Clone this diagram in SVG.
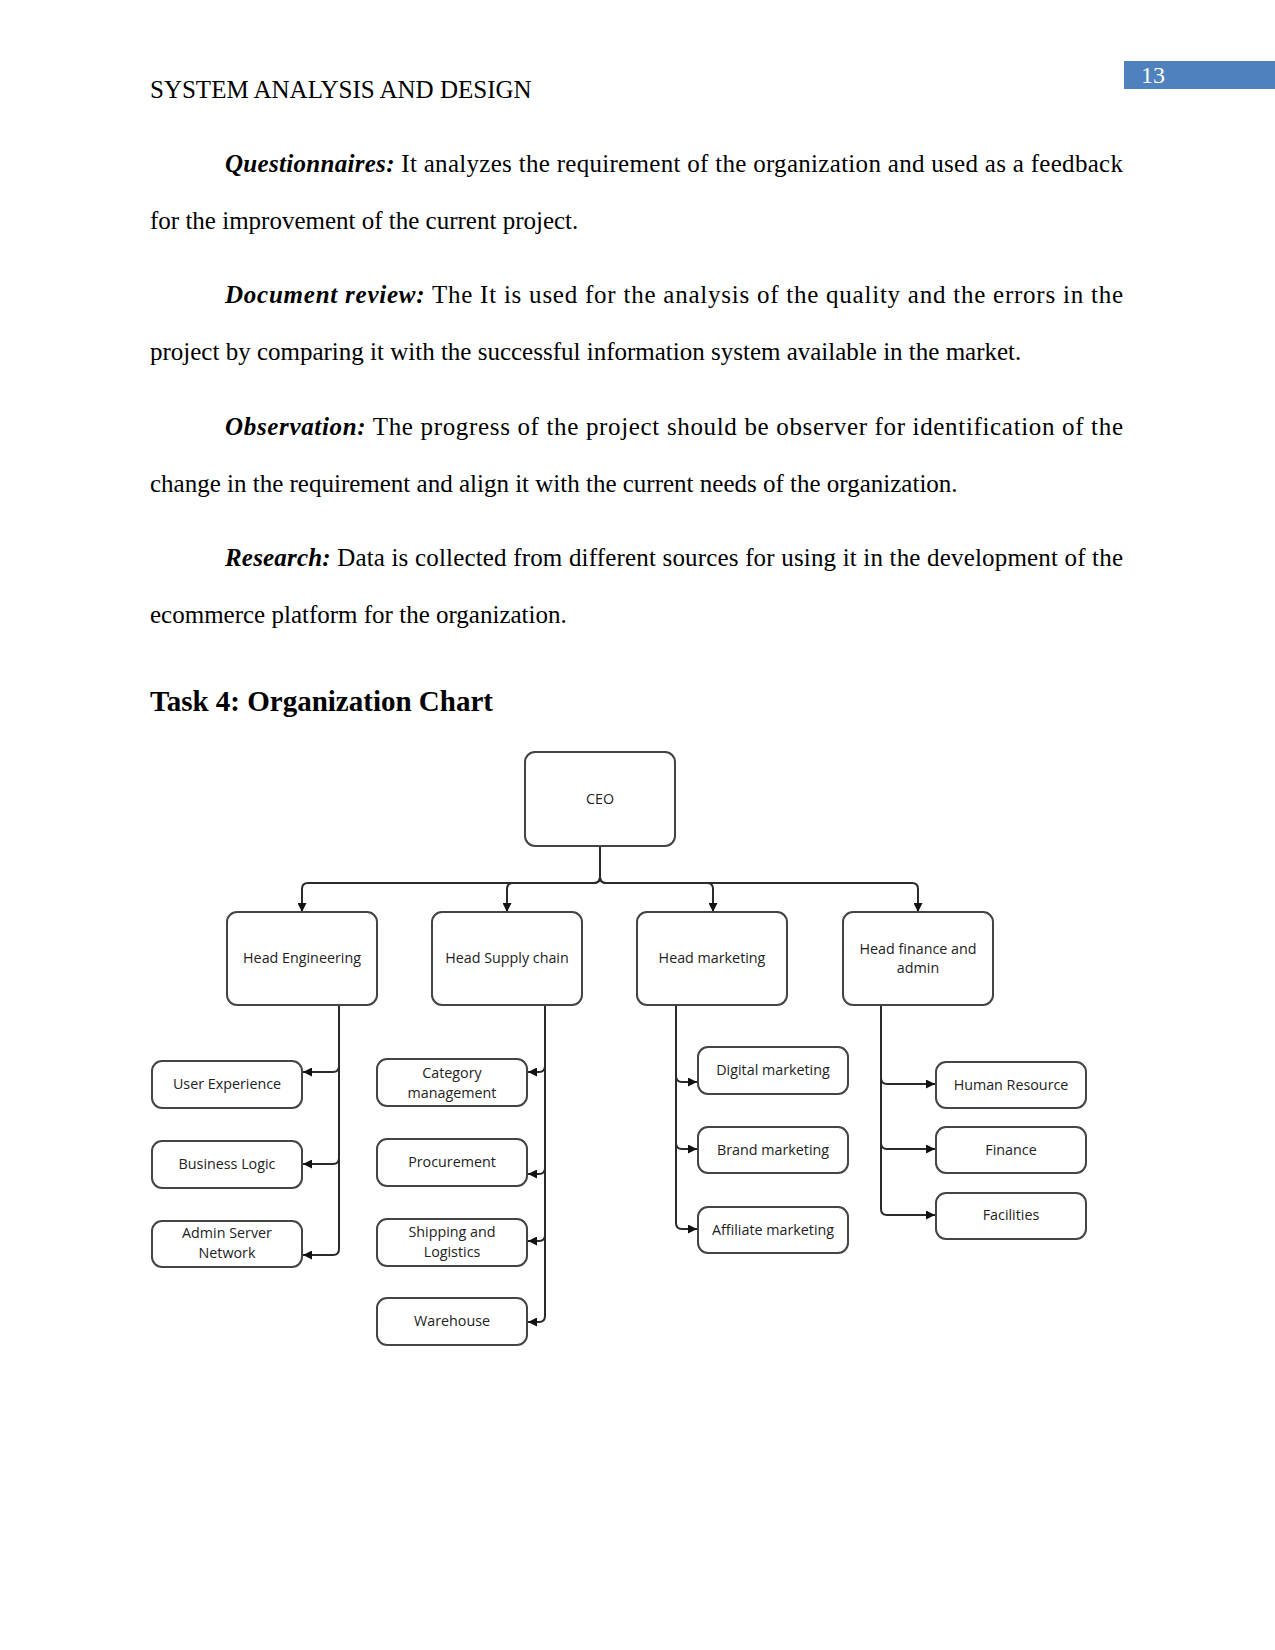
<svg xmlns="http://www.w3.org/2000/svg" width="1275" height="1650" viewBox="0 0 1275 1650">
<style>
.body{font-family:"Liberation Serif","Times New Roman",serif;font-size:25px;fill:#000}
.bi{font-weight:bold;font-style:italic}
.node rect{fill:#fff;stroke:#444;stroke-width:2}
.node text{font-family:"Open Sans","Noto Sans",sans-serif;font-size:14.3px;fill:#222;text-anchor:middle}
#connectors path{fill:none;stroke:#2a2a2a;stroke-width:2}
</style>
<defs>
<marker id="arr" viewBox="0 0 10 10" refX="10" refY="5" markerWidth="9" markerHeight="9" markerUnits="userSpaceOnUse" orient="auto">
<path d="M0,0 L10,5 L0,10 z" fill="#111"/>
</marker>
</defs>
<rect width="1275" height="1650" fill="#fff"/>

<!-- header -->
<rect x="1124" y="61" width="151" height="28" fill="#4F81BD"/>
<text x="1141" y="83" font-family="Liberation Serif,serif" font-size="24" fill="#fff">13</text>
<text class="body" x="150" y="98">SYSTEM ANALYSIS AND DESIGN</text>

<!-- paragraphs -->
<text class="body" x="225" y="172" textLength="898" lengthAdjust="spacing"><tspan class="bi">Questionnaires:</tspan> It analyzes the requirement of the organization and used as a feedback</text>
<text class="body" x="150" y="229">for the improvement of the current project.</text>
<text class="body" x="225" y="303" textLength="898" lengthAdjust="spacing"><tspan class="bi">Document review:</tspan> The It is used for the analysis of the quality and the errors in the</text>
<text class="body" x="150" y="360">project by comparing it with the successful information system available in the market.</text>
<text class="body" x="225" y="435" textLength="898" lengthAdjust="spacing"><tspan class="bi">Observation:</tspan> The progress of the project should be observer for identification of the</text>
<text class="body" x="150" y="492">change in the requirement and align it with the current needs of the organization.</text>
<text class="body" x="225" y="566" textLength="898" lengthAdjust="spacing"><tspan class="bi">Research:</tspan> Data is collected from different sources for using it in the development of the</text>
<text class="body" x="150" y="623">ecommerce platform for the organization.</text>
<text x="150" y="711" font-family="Liberation Serif,serif" font-size="29" font-weight="bold">Task 4: Organization Chart</text>

<!-- connectors -->
<g id="connectors">
<path d="M600,846 V877 Q600,883 594,883 H308 Q302,883 302,889 V912" marker-end="url(#arr)"/>
<path d="M600,877 Q600,883 594,883 H513 Q507,883 507,889 V912" marker-end="url(#arr)"/>
<path d="M600,877 Q600,883 606,883 H707 Q713,883 713,889 V912" marker-end="url(#arr)"/>
<path d="M600,877 Q600,883 606,883 H912 Q918,883 918,889 V912" marker-end="url(#arr)"/>

<path d="M339,1005 V1066 Q339,1072 333,1072 H303" marker-end="url(#arr)"/>
<path d="M339,1005 V1158 Q339,1164 333,1164 H303" marker-end="url(#arr)"/>
<path d="M339,1005 V1249 Q339,1255 333,1255 H303" marker-end="url(#arr)"/>

<path d="M545,1005 V1066 Q545,1072 539,1072 H528" marker-end="url(#arr)"/>
<path d="M545,1005 V1168 Q545,1174 539,1174 H528" marker-end="url(#arr)"/>
<path d="M545,1005 V1235 Q545,1241 539,1241 H528" marker-end="url(#arr)"/>
<path d="M545,1005 V1316 Q545,1322 539,1322 H528" marker-end="url(#arr)"/>

<path d="M676,1005 V1076 Q676,1082 682,1082 H697" marker-end="url(#arr)"/>
<path d="M676,1005 V1143 Q676,1149 682,1149 H697" marker-end="url(#arr)"/>
<path d="M676,1005 V1223 Q676,1229 682,1229 H697" marker-end="url(#arr)"/>

<path d="M881,1005 V1078 Q881,1084 887,1084 H935" marker-end="url(#arr)"/>
<path d="M881,1005 V1143 Q881,1149 887,1149 H935" marker-end="url(#arr)"/>
<path d="M881,1005 V1209 Q881,1215 887,1215 H935" marker-end="url(#arr)"/>
</g>

<!-- nodes -->
<g id="ceo" class="node"><rect x="525" y="752" width="150" height="94" rx="10"/><text x="600" y="804">CEO</text></g>

<g id="head-eng" class="node"><rect x="227" y="912" width="150" height="93" rx="10"/><text x="302" y="963">Head Engineering</text></g>
<g id="head-supply" class="node"><rect x="432" y="912" width="150" height="93" rx="10"/><text x="507" y="963">Head Supply chain</text></g>
<g id="head-marketing" class="node"><rect x="637" y="912" width="150" height="93" rx="10"/><text x="712" y="963">Head marketing</text></g>
<g id="head-finance" class="node"><rect x="843" y="912" width="150" height="93" rx="10"/><text x="918" y="954">Head finance and</text><text x="918" y="973">admin</text></g>

<g id="user-experience" class="node"><rect x="152" y="1061" width="150" height="47" rx="10"/><text x="227" y="1089">User Experience</text></g>
<g id="business-logic" class="node"><rect x="152" y="1141" width="150" height="47" rx="10"/><text x="227" y="1169">Business Logic</text></g>
<g id="admin-server" class="node"><rect x="152" y="1221" width="150" height="46" rx="10"/><text x="227" y="1238">Admin Server</text><text x="227" y="1258">Network</text></g>

<g id="category" class="node"><rect x="377" y="1059" width="150" height="47" rx="10"/><text x="452" y="1078">Category</text><text x="452" y="1098">management</text></g>
<g id="procurement" class="node"><rect x="377" y="1139" width="150" height="47" rx="10"/><text x="452" y="1167">Procurement</text></g>
<g id="shipping" class="node"><rect x="377" y="1219" width="150" height="47" rx="10"/><text x="452" y="1237">Shipping and</text><text x="452" y="1257">Logistics</text></g>
<g id="warehouse" class="node"><rect x="377" y="1298" width="150" height="47" rx="10"/><text x="452" y="1326">Warehouse</text></g>

<g id="digital" class="node"><rect x="698" y="1047" width="150" height="47" rx="10"/><text x="773" y="1075">Digital marketing</text></g>
<g id="brand" class="node"><rect x="698" y="1127" width="150" height="46" rx="10"/><text x="773" y="1155">Brand marketing</text></g>
<g id="affiliate" class="node"><rect x="698" y="1207" width="150" height="46" rx="10"/><text x="773" y="1235">Affiliate marketing</text></g>

<g id="human-resource" class="node"><rect x="936" y="1062" width="150" height="46" rx="10"/><text x="1011" y="1090">Human Resource</text></g>
<g id="finance" class="node"><rect x="936" y="1127" width="150" height="46" rx="10"/><text x="1011" y="1155">Finance</text></g>
<g id="facilities" class="node"><rect x="936" y="1193" width="150" height="46" rx="10"/><text x="1011" y="1220">Facilities</text></g>
</svg>
